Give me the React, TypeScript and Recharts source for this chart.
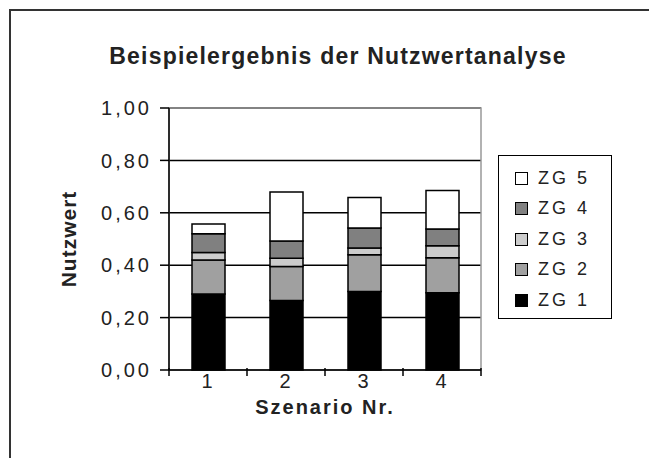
import { BarChart, Bar, XAxis, YAxis, CartesianGrid, ReferenceArea } from 'recharts';

const scenarios = ['1', '2', '3', '4'];
const zg1 = [0.29, 0.265, 0.3, 0.295];
const zg2 = [0.13, 0.13, 0.14, 0.133];
const zg3 = [0.028, 0.032, 0.026, 0.046];
const zg4 = [0.072, 0.065, 0.076, 0.064];
const zg5 = [0.037, 0.187, 0.116, 0.147];
const yTicks = [0, 0.2, 0.4, 0.6, 0.8, 1];

const SERIES = [
  { key: 'zg1', name: 'ZG 1', color: '#000000', values: zg1 },
  { key: 'zg2', name: 'ZG 2', color: '#a0a0a0', values: zg2 },
  { key: 'zg3', name: 'ZG 3', color: '#cccccc', values: zg3 },
  { key: 'zg4', name: 'ZG 4', color: '#808080', values: zg4 },
  { key: 'zg5', name: 'ZG 5', color: '#ffffff', values: zg5 }
];

const FONT = '"Liberation Sans", Arial, Helvetica, sans-serif';

const chartData = scenarios.map((name, i) => {
  const row: Record<string, string | number> = { name };
  SERIES.forEach((s) => {
    row[s.key] = s.values[i];
  });
  return row;
});

const fmt = (v: number) => v.toFixed(2).replace('.', ',');

// category labels in the middle, tick marks on the category edges (Excel style)
function CategoryTick(props: any) {
  const { x, y, payload, index } = props;
  const half = payload?.offset ?? 0;
  const axisY = y - 10;
  return (
    <g>
      <line x1={x - half} y1={axisY} x2={x - half} y2={axisY + 8} stroke="#000" strokeWidth={1.5} />
      {index === scenarios.length - 1 && (
        <line x1={x + half} y1={axisY} x2={x + half} y2={axisY + 8} stroke="#000" strokeWidth={1.5} />
      )}
      <text x={x} y={y + 10} textAnchor="middle" fontSize={20} fill="#222" fontFamily={FONT} letterSpacing={2}>
        {payload.value}
      </text>
    </g>
  );
}

export default function App() {
  return (
    <div style={{ position: 'relative', width: 649, height: 450, fontFamily: FONT }}>
      <div
        style={{
          position: 'absolute',
          left: 1,
          top: 1,
          width: 660,
          height: 460,
          borderLeft: '2px solid #333',
          borderTop: '2px solid #333'
        }}
      />
      <div
        style={{
          position: 'absolute',
          left: 10,
          top: 35,
          width: 640,
          textAlign: 'center',
          fontSize: 23,
          fontWeight: 'bold',
          color: '#222',
          letterSpacing: 1.2
        }}
      >
        Beispielergebnis der Nutzwertanalyse
      </div>
      <div style={{ position: 'absolute', left: 0, top: 0 }}>
        <BarChart
          width={649}
          height={450}
          data={chartData}
          margin={{ top: 100, right: 176, left: 0, bottom: 0 }}
          barSize={33}
        >
          <CartesianGrid vertical={false} stroke="#000" strokeWidth={1.5} />
          <ReferenceArea y1={0} y2={1} fill="none" stroke="#999" strokeWidth={1.5} ifOverflow="visible" />
          <XAxis
            dataKey="name"
            height={88}
            axisLine={{ stroke: '#000', strokeWidth: 1.5 }}
            tickLine={false}
            tick={<CategoryTick />}
            label={{
              value: 'Szenario Nr.',
              position: 'insideTop',
              offset: 30,
              fontSize: 20,
              fontWeight: 'bold',
              fill: '#222',
              fontFamily: FONT,
              letterSpacing: 2
            }}
          />
          <YAxis
            width={161}
            domain={[0, 1]}
            ticks={yTicks}
            tickFormatter={fmt}
            tickSize={9}
            tickMargin={8}
            axisLine={{ stroke: '#000', strokeWidth: 1.5 }}
            tickLine={{ stroke: '#000', strokeWidth: 1.5 }}
            tick={{ fontSize: 20, fill: '#222', fontFamily: FONT, letterSpacing: 3 }}
            label={{
              value: 'Nutzwert',
              angle: -90,
              position: 'center',
              dx: -20,
              fontSize: 21,
              fontWeight: 'bold',
              fill: '#222',
              fontFamily: FONT,
              letterSpacing: 1
            }}
          />
          {SERIES.map((s) => (
            <Bar
              key={s.key}
              dataKey={s.key}
              name={s.name}
              stackId="a"
              fill={s.color}
              stroke="#000"
              strokeWidth={1.5}
              isAnimationActive={false}
            />
          ))}
        </BarChart>
      </div>
      <div
        style={{
          position: 'absolute',
          left: 490,
          top: 147,
          width: 114,
          height: 164,
          border: '1.5px solid #000',
          boxSizing: 'border-box',
          paddingTop: 7
        }}
      >
        {[...SERIES].reverse().map((s) => (
          <div key={s.key} style={{ display: 'flex', alignItems: 'center', height: 30.5, paddingLeft: 16 }}>
            <span
              style={{
                width: 11,
                height: 11,
                background: s.color,
                border: '1.5px solid #000',
                display: 'inline-block',
                marginRight: 10
              }}
            />
            <span style={{ fontSize: 18, color: '#222', letterSpacing: 3 }}>{s.name}</span>
          </div>
        ))}
      </div>
    </div>
  );
}
